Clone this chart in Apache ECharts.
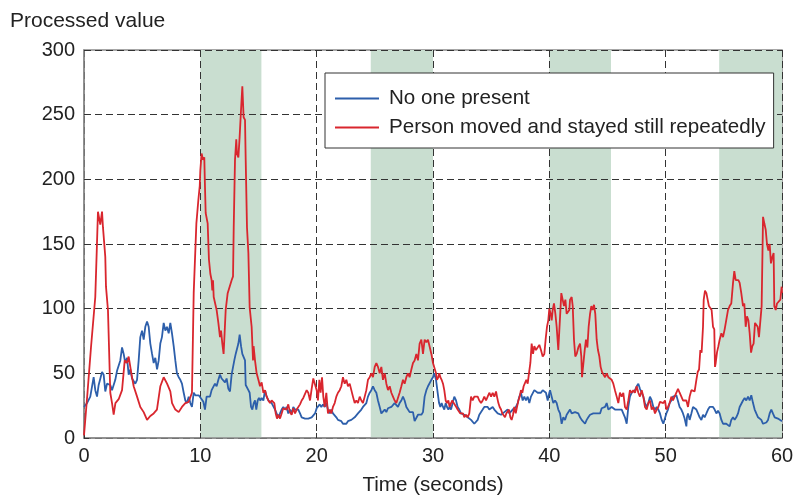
<!DOCTYPE html>
<html>
<head>
<meta charset="utf-8">
<script src="https://cdn.jsdelivr.net/npm/echarts@6/dist/echarts.min.js"></script>
<style>html,body{margin:0;padding:0;background:#fff}#c{width:798px;height:496px}</style>
</head>
<body>
<div id="c"></div>
<script>
const seriesNames = ['No one present', 'Person moved and stayed still repeatedly'];
const xTicks = [0, 10, 20, 30, 40, 50, 60];
const yTicks = [0, 50, 100, 150, 200, 250, 300];
const stillBands = [[10, 15.25], [24.65, 30], [40, 45.3], [54.6, 60]];

// [time (s), value]
const noOnePresent = [
[0,24],[0.17,24],[0.26,27],[0.54,32],[0.69,33],[0.83,47],[0.97,37],[1.12,32],[1.26,41],[1.4,40],[1.55,51],[1.69,49],[1.83,36],[1.98,42],[2.26,41],[2.41,37],[2.55,36],[2.69,45],[2.84,52],[3.12,60],[3.27,70],[3.41,65],[3.55,58],[3.7,62],[3.84,49],[3.98,53],[4.13,46],[4.41,42],[4.56,45],[4.7,60],[4.84,78],[4.99,83],[5.13,76],[5.27,86],[5.42,90],[5.56,86],[5.7,73],[5.85,65],[5.99,58],[6.13,62],[6.28,53],[6.42,60],[6.56,73],[6.7,78],[6.85,89],[6.99,83],[7.13,86],[7.28,81],[7.42,89],[7.56,81],[7.71,71],[7.85,60],[7.99,50],[8.14,47],[8.28,45],[8.42,42],[8.57,35],[8.71,29],[8.85,27],[9.0,32],[9.14,27],[9.28,24],[9.43,35],[9.57,33],[9.71,32],[9.86,33],[10.0,32],
[10.11,30],[10.26,28],[10.4,22],[10.54,32],[10.69,31],[10.83,32],[10.97,37],[11.12,38],[11.26,42],[11.4,40],[11.55,45],[11.69,49],[11.83,46],[11.98,47],[12.12,43],[12.26,46],[12.41,38],[12.55,36],[12.69,49],[12.84,50],[12.92,60],[13.04,65],[13.15,65],[13.27,73],[13.38,80],[13.5,71],[13.61,65],[13.72,65],[13.84,60],[13.9,41],[14.01,40],[14.13,37],[14.24,35],[14.36,24],[14.47,22],[14.59,27],[14.7,29],[14.81,22],[14.93,29],[15.04,31],[15.16,29],[15.27,31],[15.42,29],[15.56,37],[15.7,32],[15.85,29],[16.13,27],[16.42,22],[16.7,16],[16.85,19],[16.99,22],[17.13,24],[17.28,22],[17.42,24],[17.56,19],[17.71,22],[17.85,19],[17.99,24],[18.14,22],[18.42,22],[18.57,19],[18.71,16],[19.0,15],[19.28,15],[19.57,16],[19.86,19],[20.0,23],
[20.11,24],[20.26,26],[20.4,24],[20.54,26],[20.69,24],[20.83,27],[20.97,22],[21.12,19],[21.26,22],[21.4,19],[21.55,18],[21.69,16],[21.83,14],[22.12,13],[22.26,11],[22.55,11],[22.69,13],[22.98,14],[23.27,16],[23.55,19],[23.84,22],[23.98,24],[24.27,27],[24.41,32],[24.56,35],[24.7,37],[24.84,40],[24.99,37],[25.13,35],[25.27,29],[25.42,24],[25.56,19],[25.7,18],[25.85,22],[25.99,20],[26.13,23],[26.28,22],[26.42,24],[26.7,27],[26.85,28],[26.99,24],[27.13,27],[27.28,29],[27.42,32],[27.56,29],[27.71,24],[27.85,23],[27.99,20],[28.14,19],[28.28,20],[28.42,13],[28.57,14],[28.71,18],[28.85,19],[29.0,18],[29.14,20],[29.28,32],[29.43,37],[29.57,40],[29.71,40],[29.86,45],[30.0,47],
[30.11,50],[30.26,45],[30.4,35],[30.52,27],[30.63,24],[30.74,27],[30.86,24],[30.97,22],[31.09,27],[31.2,24],[31.32,22],[31.43,24],[31.55,22],[31.69,27],[31.83,32],[31.98,29],[32.12,24],[32.26,22],[32.41,19],[32.69,18],[32.98,16],[33.27,14],[33.55,11],[33.7,10],[33.84,14],[33.98,18],[34.13,19],[34.27,22],[34.41,24],[34.56,25],[34.7,24],[34.84,22],[34.99,23],[35.13,24],[35.27,22],[35.42,22],[35.56,19],[35.7,20],[35.85,18],[35.99,19],[36.13,20],[36.28,19],[36.42,22],[36.56,19],[36.7,18],[36.85,22],[36.99,23],[37.13,24],[37.28,27],[37.42,32],[37.56,35],[37.71,29],[37.85,32],[37.99,29],[38.14,32],[38.28,27],[38.42,32],[38.57,33],[38.71,37],[38.85,37],[39.0,35],[39.14,36],[39.28,35],[39.43,37],[39.57,36],[39.71,35],[39.86,29],[40.0,35],
[40.06,37],[40.2,32],[40.34,27],[40.49,29],[40.63,27],[40.77,22],[40.92,19],[41.06,11],[41.2,16],[41.35,14],[41.49,18],[41.63,19],[41.78,22],[41.92,19],[42.06,19],[42.21,20],[42.35,19],[42.49,19],[42.64,16],[42.78,14],[42.92,15],[43.07,11],[43.21,14],[43.35,16],[43.5,18],[43.64,19],[43.78,19],[43.93,20],[44.07,19],[44.21,20],[44.36,19],[44.5,23],[44.64,22],[44.79,24],[44.93,27],[45.07,22],[45.21,22],[45.36,24],[45.5,23],[45.64,22],[45.79,23],[45.93,22],[46.07,23],[46.22,22],[46.36,23],[46.5,16],[46.65,11],[46.79,24],[46.93,32],[47.08,35],[47.22,36],[47.36,37],[47.51,40],[47.65,42],[47.79,38],[47.94,35],[48.08,32],[48.22,27],[48.37,24],[48.51,27],[48.65,32],[48.8,29],[48.94,24],[49.08,22],[49.23,24],[49.37,22],[49.51,19],[49.66,14],[49.8,11],[49.94,12],
[50.06,19],[50.2,22],[50.34,27],[50.49,29],[50.63,32],[50.77,32],[50.92,33],[51.06,32],[51.2,24],[51.35,22],[51.49,19],[51.63,15],[51.78,9],[51.83,16],[51.92,19],[52.06,14],[52.21,19],[52.35,24],[52.49,23],[52.64,22],[52.78,19],[52.92,16],[53.07,14],[53.21,18],[53.35,16],[53.5,19],[53.64,22],[53.78,24],[53.93,25],[54.07,24],[54.21,22],[54.36,19],[54.5,21],[54.64,19],[54.79,14],[54.93,11],[55.07,10],[55.21,11],[55.36,10],[55.5,9],[55.64,14],[55.79,16],[55.93,14],[56.07,16],[56.22,19],[56.36,24],[56.5,25],[56.65,29],[56.79,31],[56.93,29],[57.08,32],[57.22,29],[57.36,33],[57.51,27],[57.65,22],[57.79,19],[57.94,16],[58.08,15],[58.22,14],[58.37,11],[58.51,10],[58.65,12],[58.8,14],[58.94,19],[59.08,22],[59.22,19],[59.37,16],[59.51,15],[59.65,15],[59.8,14],[60.0,13]
];

const personMoved = [
[0,2],[0.3,35],[0.6,70],[0.97,109],[1.09,143],[1.2,175],[1.4,165],[1.55,175],[1.63,163],[1.83,140],[1.89,117],[2.06,99],[2.26,35],[2.41,27],[2.55,18],[2.7,27],[2.98,30],[3.27,37],[3.5,60],[3.7,58],[3.84,63],[4.07,50],[4.27,40],[4.56,32],[4.84,24],[5.13,20],[5.42,14],[5.7,17],[5.99,19],[6.27,22],[6.56,40],[6.85,47],[7.14,42],[7.42,36],[7.57,27],[7.85,22],[8.14,20],[8.42,24],[8.71,27],[9.0,28],[9.28,35],[9.43,112],[9.66,166],[9.83,184],[9.95,195],
[10.0,207],[10.11,220],[10.23,215],[10.34,217],[10.4,194],[10.46,174],[10.63,166],[10.74,138],[10.86,127],[10.97,122],[11.03,114],[11.09,122],[11.15,109],[11.26,109],[11.4,99],[11.55,89],[11.69,78],[11.78,83],[11.89,73],[12.0,65],[12.06,76],[12.18,99],[12.35,112],[12.52,112],[12.69,122],[12.81,125],[12.87,163],[12.98,215],[13.09,231],[13.15,220],[13.27,217],[13.38,233],[13.5,254],[13.61,272],[13.72,248],[13.84,246],[13.9,215],[14.01,163],[14.13,143],[14.24,101],[14.41,86],[14.53,60],[14.58,71],[14.7,60],[14.84,50],[14.99,45],[15.13,40],[15.27,43],[15.42,35],[15.56,37],[15.7,32],[15.85,29],[15.99,27],[16.13,29],[16.36,27],[16.48,19],[16.59,15],[16.7,18],[16.85,15],[16.99,19],[17.13,23],[17.28,24],[17.42,22],[17.56,26],[17.7,20],[17.85,18],[17.99,23],[18.14,19],[18.28,22],[18.42,23],[18.57,26],[18.71,29],[18.85,31],[19.0,32],[19.14,37],[19.28,35],[19.43,29],[19.57,38],[19.71,46],[19.86,45],[20.0,37],
[20.11,29],[20.23,45],[20.34,35],[20.46,47],[20.57,32],[20.69,24],[20.83,35],[20.97,19],[21.12,22],[21.26,19],[21.4,24],[21.55,27],[21.69,32],[21.83,35],[21.98,37],[22.12,40],[22.26,47],[22.41,42],[22.55,45],[22.69,40],[22.84,42],[22.98,37],[23.12,32],[23.27,27],[23.41,29],[23.55,27],[23.7,32],[23.84,29],[23.98,27],[24.13,32],[24.27,37],[24.41,45],[24.56,47],[24.7,50],[24.84,47],[24.99,55],[25.13,58],[25.27,55],[25.42,50],[25.56,55],[25.7,45],[25.85,50],[25.99,42],[26.13,37],[26.28,40],[26.42,35],[26.56,32],[26.7,29],[26.85,27],[26.99,28],[27.13,35],[27.28,40],[27.42,45],[27.56,42],[27.71,47],[27.85,50],[27.99,47],[28.14,53],[28.28,58],[28.42,60],[28.57,65],[28.71,60],[28.85,73],[29.0,76],[29.14,65],[29.28,76],[29.43,74],[29.57,76],[29.71,76],[29.86,65],[30.0,58],
[30.11,58],[30.26,50],[30.34,45],[30.46,47],[30.54,50],[30.63,47],[30.74,45],[30.86,42],[30.97,37],[31.09,29],[31.2,27],[31.32,29],[31.43,24],[31.55,27],[31.66,29],[31.78,27],[31.89,27],[32.0,24],[32.12,22],[32.23,22],[32.35,19],[32.46,18],[32.58,19],[32.69,16],[32.84,18],[32.98,16],[33.12,19],[33.27,32],[33.41,29],[33.55,32],[33.7,32],[33.84,32],[33.98,29],[34.13,27],[34.27,29],[34.41,32],[34.56,29],[34.7,32],[34.84,35],[34.99,32],[35.13,35],[35.27,32],[35.42,36],[35.5,32],[35.62,27],[35.73,24],[35.85,22],[35.96,19],[36.07,19],[36.19,16],[36.3,19],[36.42,18],[36.53,22],[36.65,16],[36.76,14],[36.88,18],[36.99,24],[37.11,19],[37.22,24],[37.34,29],[37.45,32],[37.56,37],[37.68,35],[37.79,40],[37.91,40],[38.02,45],[38.14,42],[38.25,50],[38.37,58],[38.48,73],[38.6,65],[38.71,71],[38.85,68],[39.0,68],[39.14,72],[39.28,68],[39.43,63],[39.57,65],[39.68,76],[39.8,86],[39.91,91],
[40.0,100],[40.11,96],[40.2,91],[40.29,99],[40.4,104],[40.52,96],[40.63,86],[40.77,68],[40.92,68],[41.03,112],[41.15,112],[41.26,102],[41.38,107],[41.49,96],[41.6,95],[41.72,99],[41.78,107],[41.92,109],[42.01,102],[42.12,76],[42.23,63],[42.35,65],[42.49,70],[42.64,73],[42.75,63],[42.81,47],[42.92,46],[43.04,68],[43.15,76],[43.27,70],[43.38,86],[43.5,96],[43.61,102],[43.72,99],[43.84,103],[43.95,96],[44.07,76],[44.18,68],[44.3,63],[44.41,55],[44.53,51],[44.64,50],[44.79,47],[44.93,50],[45.07,47],[45.21,48],[45.36,45],[45.5,42],[45.64,37],[45.79,32],[45.93,27],[46.07,35],[46.22,32],[46.36,35],[46.5,24],[46.65,22],[46.79,29],[46.93,37],[47.08,35],[47.22,37],[47.36,35],[47.51,40],[47.65,35],[47.79,32],[47.94,37],[48.08,32],[48.22,24],[48.37,22],[48.51,27],[48.65,29],[48.8,22],[48.94,24],[49.08,19],[49.23,22],[49.37,24],[49.51,28],[49.66,29],[49.8,27],[49.94,29],
[50.06,22],[50.2,24],[50.34,27],[50.49,32],[50.63,29],[50.77,32],[50.92,35],[51.06,38],[51.2,35],[51.35,32],[51.49,29],[51.63,28],[51.78,29],[51.92,24],[52.06,32],[52.21,37],[52.35,38],[52.49,36],[52.64,45],[52.75,51],[52.87,53],[52.98,68],[53.09,66],[53.21,86],[53.27,107],[53.38,114],[53.5,112],[53.61,107],[53.72,102],[53.84,103],[53.95,99],[54.07,86],[54.18,84],[54.24,55],[54.3,58],[54.41,66],[54.53,71],[54.64,76],[54.79,81],[54.93,78],[55.07,84],[55.21,84],[55.36,99],[55.5,102],[55.64,104],[55.79,120],[55.9,129],[56.02,122],[56.13,122],[56.25,122],[56.36,120],[56.5,112],[56.65,102],[56.76,104],[56.88,86],[56.99,94],[57.11,91],[57.22,81],[57.34,66],[57.45,71],[57.56,73],[57.68,89],[57.79,88],[57.91,86],[58.02,78],[58.14,78],[58.25,102],[58.37,171],[58.48,166],[58.6,161],[58.71,150],[58.83,145],[58.94,150],[59.05,135],[59.17,140],[59.28,143],[59.34,102],[59.46,99],[59.57,104],[59.74,104],[59.86,107],[59.97,117],[60.0,112]
];

const FONT = '"Liberation Sans", Arial, Helvetica, sans-serif';
const chart = echarts.init(document.getElementById('c'), null, {renderer: 'canvas'});
chart.setOption({
  animation: false,
  backgroundColor: '#fff',
  textStyle: {fontFamily: FONT},
  title: {
    text: 'Processed value', left: 5, top: 6,
    textStyle: {fontFamily: FONT, fontSize: 21, fontWeight: 'normal', color: '#222'}
  },
  grid: {left: 84, right: 16, top: 50, bottom: 58, outerBoundsMode: 'none', containLabel: false,
    show: true, borderColor: '#8a8a8a', borderWidth: 1.5, backgroundColor: 'transparent'},
  legend: {
    data: seriesNames,
    orient: 'vertical',
    left: 325, top: 73,
    backgroundColor: '#fff',
    borderColor: '#333', borderWidth: 1,
    padding: [15, 8, 10, 10],
    itemWidth: 44, itemHeight: 2, itemGap: 8,
    icon: 'rect',
    textStyle: {fontFamily: FONT, fontSize: 20.6, color: '#222', lineHeight: 20, padding: [0, 0, 0, 5]},
    z: 10
  },
  xAxis: {
    type: 'value', min: xTicks[0], max: xTicks[xTicks.length - 1], interval: 10, z: 3,
    name: 'Time (seconds)', nameLocation: 'middle', nameGap: 37,
    nameTextStyle: {fontFamily: FONT, fontSize: 20.6, color: '#222'},
    axisLine: {lineStyle: {color: '#8a8a8a', width: 1.5}},
    axisTick: {inside: true, length: 5, lineStyle: {color: '#333'}},
    axisLabel: {fontFamily: FONT, fontSize: 20, color: '#222', margin: 8},
    splitLine: {show: true, lineStyle: {color: '#333', type: [7, 4], width: 1}}
  },
  yAxis: {
    type: 'value', min: yTicks[0], max: yTicks[yTicks.length - 1], interval: 50, z: 3,
    axisLine: {show: true, lineStyle: {color: '#8a8a8a', width: 1.5}},
    axisTick: {show: true, inside: true, length: 5, lineStyle: {color: '#333'}},
    axisLabel: {fontFamily: FONT, fontSize: 20, color: '#222', margin: 9},
    splitLine: {show: true, lineStyle: {color: '#333', type: [7, 4], width: 1}}
  },
  series: [
    {
      name: 'bands', type: 'line', data: [], z: 1, silent: true,
      markArea: {silent: true, itemStyle: {color: '#c9ded0'},
        data: stillBands.map(b => [{xAxis: b[0]}, {xAxis: b[1]}])}
    },
    {
      name: seriesNames[0], type: 'line', data: noOnePresent, z: 5,
      symbol: 'none', color: '#2d5fab', lineStyle: {width: 1.8, color: '#2d5fab'}
    },
    {
      name: seriesNames[1], type: 'line', data: personMoved, z: 6,
      symbol: 'none', color: '#d9262e', lineStyle: {width: 1.8, color: '#d9262e'}
    }
  ]
});
</script>
</body>
</html>
